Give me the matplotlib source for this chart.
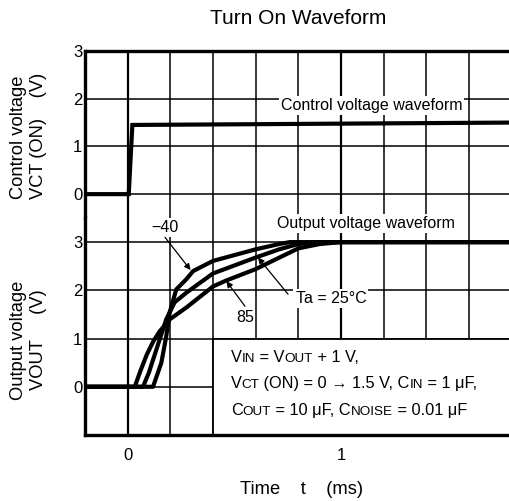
import matplotlib
matplotlib.use('Agg')
import matplotlib.pyplot as plt
from matplotlib.patches import Rectangle

plt.rcParams['font.family'] = ['Liberation Sans', 'DejaVu Sans']

# control voltage VCT(ON) step
t_ctrl = [-0.2, 0.005, 0.022, 1.8]
v_ctrl = [0.0, 0.0, 1.45, 1.5]

# output voltage for each ambient temperature
t_m40 = [-0.2, 0.119, 0.158, 0.181, 0.197, 0.228, 0.275, 0.307, 0.40, 0.60, 0.71, 0.76, 1.8]
v_m40 = [0.0, 0.0, 0.5, 1.05, 1.54, 2.02, 2.23, 2.40, 2.61, 2.85, 2.96, 3.0, 3.0]

t_25 = [-0.2, 0.072, 0.10, 0.119, 0.15, 0.181, 0.22, 0.275, 0.40, 0.60, 0.71, 0.80, 0.88, 1.8]
v_25 = [0.0, 0.0, 0.3, 0.56, 0.98, 1.40, 1.75, 1.95, 2.35, 2.68, 2.85, 2.96, 3.0, 3.0]

t_85 = [-0.2, 0.033, 0.06, 0.089, 0.12, 0.15, 0.198, 0.277, 0.40, 0.46, 0.60, 0.80, 0.90, 1.0, 1.8]
v_85 = [0.0, 0.0, 0.33, 0.66, 0.94, 1.15, 1.40, 1.65, 2.08, 2.20, 2.44, 2.87, 2.96, 3.0, 3.0]

x_ticks = [0, 1]
y_ticks = [0, 1, 2, 3]

W, H = 509, 501
fig = plt.figure(figsize=(W / 100, H / 100), dpi=100)

def px_axes(x0, y0, x1, y1):
    return fig.add_axes([x0 / W, 1 - y1 / H, (x1 - x0) / W, (y1 - y0) / H])

ax_ct = px_axes(85, 51, 511.6, 218)
ax_out = px_axes(85, 218, 511.6, 435)

for ax in (ax_ct, ax_out):
    ax.set_xlim(-0.2, 1.8)
    ax.set_xticks(x_ticks)
    ax.set_xticks([-0.2 + 0.2 * i for i in range(11)], minor=True)
    ax.set_yticks(y_ticks)
    ax.tick_params(which='both', length=0, labelsize=12)
    ax.tick_params(axis='y', pad=2)
    ax.tick_params(axis='x', pad=9)
    ax.set_axisbelow(True)
    ax.grid(axis='x', which='minor', color='black', lw=1.1)
    ax.grid(axis='x', which='major', color='black', lw=1.6)
    ax.grid(axis='y', which='major', color='black', lw=1.1)
    ax.spines['right'].set_visible(False)
    for side in ('left', 'top', 'bottom'):
        ax.spines[side].set_linewidth(2.4)
        ax.spines[side].set_capstyle('projecting')

ax_ct.set_ylim(-0.5, 3)
ax_ct.spines['bottom'].set_visible(False)
ax_ct.tick_params(axis='x', labelbottom=False)

ax_out.set_ylim(-1, 3.5)
ax_out.spines['top'].set_visible(False)

lw_curve = 3.0
ax_ct.plot(t_ctrl, v_ctrl, color='black', lw=lw_curve, solid_joinstyle='miter', zorder=3)
for t, v in ((t_m40, v_m40), (t_25, v_25), (t_85, v_85)):
    ax_out.plot(t, v, color='black', lw=lw_curve, solid_joinstyle='round', zorder=3)

# condition box in the lower right corner
ax_out.add_patch(Rectangle((0.4, -1), 1.6, 2, facecolor='white', edgecolor='black',
                           lw=1.3, zorder=1.5))

white = dict(facecolor='white', edgecolor='none', pad=1.5)
ax_ct.text(1.143, 1.85, 'Control voltage waveform', fontsize=11.5, ha='center',
           va='center', bbox=white, zorder=4)
ax_out.text(1.119, 3.38, 'Output voltage waveform', fontsize=11.5, ha='center',
            va='center', bbox=white, zorder=4)

arrow = dict(arrowstyle='-|>', color='black', lw=0.9, mutation_scale=9,
             shrinkA=0, shrinkB=0)
ax_out.text(0.174, 3.31, '\u221240', fontsize=11.5, ha='center', va='center',
            bbox=white, zorder=4)
ax_out.annotate('', xy=(0.295, 2.42), xytext=(0.175, 3.10), arrowprops=arrow, zorder=4)
ax_out.text(0.953, 1.83, 'Ta = 25\u00b0C', fontsize=11.5, ha='center', va='center',
            bbox=white, zorder=4)
ax_out.annotate('', xy=(0.611, 2.68), xytext=(0.752, 1.92), arrowprops=arrow, zorder=4)
ax_out.text(0.551, 1.43, '85', fontsize=11.5, ha='center', va='center', zorder=4)
ax_out.annotate('', xy=(0.463, 2.19), xytext=(0.55, 1.67), arrowprops=arrow, zorder=4)

def rich_line(ax, x, y, parts):
    t = ax.text(x, y, parts[0][0], fontsize=parts[0][1], ha='left', va='baseline', zorder=4)
    for s, fs in parts[1:]:
        t = ax.annotate(s, xy=(1, 0), xycoords=t, ha='left', va='bottom',
                        fontsize=fs, zorder=4)

big, small = 11.8, 9.7
rich_line(ax_out, 0.483, 0.52, [('V', big), ('IN', small), (' = V', big),
                                ('OUT', small), (' + 1 V,', big)])
rich_line(ax_out, 0.483, -0.035, [('V', big), ('CT', small),
                                  (' (ON) = 0 \u2192 1.5 V, C', big), ('IN', small),
                                  (' = 1 \u03bcF,', big)])
rich_line(ax_out, 0.483, -0.59, [('C', big), ('OUT', small), (' = 10 \u03bcF, C', big),
                                 ('NOISE', small), (' = 0.01 \u03bcF', big)])

fig.text(298 / W, 1 - 18 / H, 'Turn On Waveform', fontsize=15, ha='center', va='center')
fig.text(302 / W, 1 - 490 / H, 'Time    t    (ms)', fontsize=13.2, ha='center', va='center')
fig.text(28.5 / W, 1 - 136 / H, 'Control voltage\nVCT (ON)    (V)', fontsize=13.2,
         rotation=90, ha='center', va='center', multialignment='left')
fig.text(28.5 / W, 1 - 340 / H, 'Output voltage\nVOUT     (V)', fontsize=13.2,
         rotation=90, ha='center', va='center', multialignment='center')

fig.savefig('out.png', dpi=100)
